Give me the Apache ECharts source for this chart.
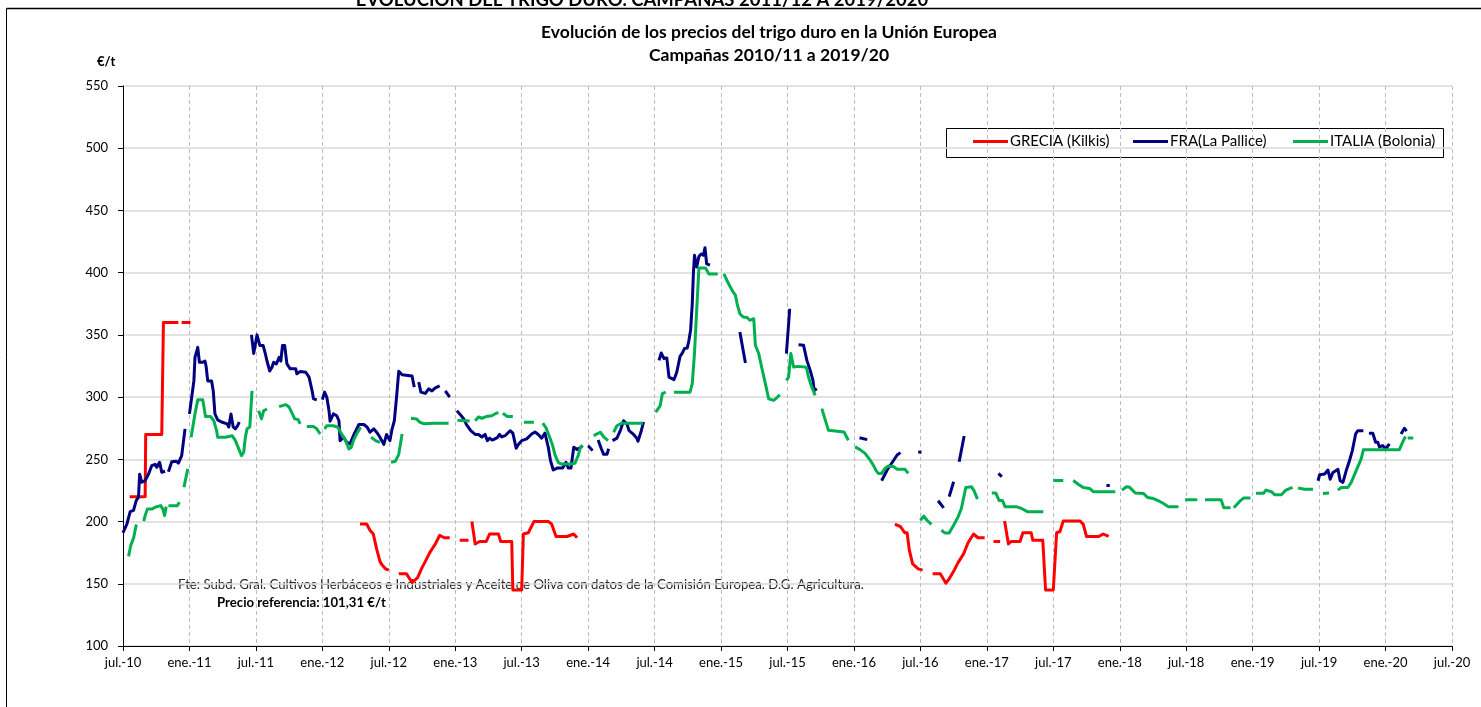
<!DOCTYPE html>
<html>
<head>
<meta charset="utf-8">
<script src="https://cdn.jsdelivr.net/npm/echarts@6/dist/echarts.min.js"></script>
<style>
  html, body { margin: 0; padding: 0; background: #fff; }
  #chart { width: 1481px; height: 707px; }
</style>
</head>
<body>
<div id="chart"></div>
<script>
// eje X: meses desde jul.-10 (0) hasta jul.-20 (120), marcas cada 6 meses
var tickLabels = ['jul.-10', 'ene.-11', 'jul.-11', 'ene.-12', 'jul.-12', 'ene.-13', 'jul.-13',
  'ene.-14', 'jul.-14', 'ene.-15', 'jul.-15', 'ene.-16', 'jul.-16', 'ene.-17', 'jul.-17',
  'ene.-18', 'jul.-18', 'ene.-19', 'jul.-19', 'ene.-20', 'jul.-20']

var seriesNames = ['GRECIA (Kilkis)', 'FRA(La Pallice)', 'ITALIA (Bolonia)']

// [mes, €/t] ; null = sin cotización (corte de la línea)
var greciaPts = [
  [0.6, 220], [2.0, 220], [2.05, 270], [3.5, 270], [3.65, 360], [5.0, 360], null,
  [5.3, 360], [6.1, 360], null,
  [21.4, 198], [22.0, 198], [22.3, 193], [22.6, 190], [22.9, 178], [23.2, 168], [23.4, 165], [23.7, 162], [24.0, 161], null,
  [24.9, 158], [25.6, 158], [26.1, 151], [26.6, 155], [27.0, 163], [27.3, 168], [27.7, 175], [28.2, 182], [28.6, 189], [29.0, 187], [29.5, 187], null,
  [30.4, 185], [31.2, 185], null,
  [31.5, 200], [31.8, 182], [32.2, 184], [32.8, 184], [33.1, 190], [33.9, 190], [34.1, 184], [35.1, 184], [35.2, 145], [36.0, 145],
  [36.15, 190], [36.6, 191], [37.1, 200], [38.4, 200], [38.7, 198], [39.1, 188], [40.1, 188], [40.7, 190], [41.0, 187], null,
  [69.7, 198], [70.2, 196], [70.6, 191], [70.8, 191], [71.0, 177], [71.3, 166], [71.8, 162], [72.2, 161], null,
  [73.1, 158], [73.8, 158], [74.3, 150.5], [74.6, 154], [75.0, 160], [75.4, 167], [75.9, 174], [76.3, 183], [76.8, 190], [77.2, 187], [77.8, 187], null,
  [78.6, 184], [79.2, 184], null,
  [79.6, 200.5], [79.95, 182], [80.2, 184], [81.0, 184], [81.25, 191], [82.0, 191], [82.15, 185], [83.05, 185], [83.3, 145], [84.0, 145],
  [84.3, 191], [84.6, 192], [84.9, 200.5], [86.4, 200.5], [86.7, 198], [87.0, 188], [88.1, 188], [88.5, 190], [89.0, 188]
]

var fraPts = [
  [0, 191], [0.35, 198], [0.65, 208], [0.95, 209], [1.2, 217], [1.4, 219.5], [1.5, 238], [1.7, 231.6], [2.0, 233], [2.3, 238],
  [2.6, 245], [2.9, 246], [3.05, 243.6], [3.3, 247.7], [3.5, 239.6], [3.8, 240.4], null,
  [4.1, 240], [4.4, 248], [4.8, 248.5], [5.0, 247], [5.3, 253], [5.6, 274.5], null,
  [6.0, 286.5], [6.4, 313], [6.5, 332], [6.75, 340], [6.9, 328], [7.2, 328], [7.4, 329], [7.5, 325], [7.65, 313], [8.0, 313],
  [8.15, 305], [8.3, 286.5], [8.55, 281.7], [8.9, 280], [9.4, 278.5], [9.55, 276], [9.75, 286.5], [9.95, 276], [10.15, 274.5],
  [10.35, 277], [10.5, 280], null,
  [11.6, 350], [11.8, 335], [12.1, 350], [12.35, 341.5], [12.65, 341.5], [12.85, 335], [13.0, 329], [13.25, 321], [13.45, 324],
  [13.6, 328], [13.85, 326.7], [14.1, 332], [14.25, 329], [14.4, 341.4], [14.6, 341.4], [14.8, 326.7], [15.1, 322.7], [15.6, 322.7],
  [15.7, 318.7], [16.0, 320.5], [16.5, 320], [16.65, 321], [16.8, 316], [17.1, 304], [17.2, 298.6], [17.5, 297.8], null,
  [18.0, 298], [18.2, 304], [18.4, 300], [18.6, 289], [18.7, 280.6], [19.0, 286.5], [19.3, 285], [19.5, 281], [19.6, 265],
  [19.9, 268], [20.2, 263.7], [20.5, 262.4], [20.85, 270], [21.3, 278], [21.75, 278], [22.05, 275.8], [22.3, 271.8], [22.65, 274.5],
  [22.9, 271.8], [23.2, 267.8], [23.55, 262], [23.8, 270], [24.1, 265], [24.3, 274.5], [24.5, 281], [24.7, 300], [24.9, 320.8],
  [25.2, 318], [26.1, 317], [26.3, 308], null,
  [26.7, 312], [26.9, 304], [27.3, 303], [27.6, 306.6], [27.9, 305], [28.2, 307.4], [28.6, 309], null,
  [29.1, 305], [29.5, 300], null,
  [30.15, 289], [30.5, 285.5], [30.8, 282], [31.0, 278], [31.4, 273], [31.8, 270], [32.1, 270], [32.4, 268], [32.7, 270],
  [32.9, 265], [33.1, 267], [33.35, 265.5], [33.8, 267.5], [34.0, 270], [34.2, 268], [34.5, 269], [34.95, 273], [35.2, 271],
  [35.5, 259], [35.7, 262], [36.0, 265], [36.45, 266.4], [36.9, 270.4], [37.2, 272], [37.5, 270], [37.8, 267], [38.1, 271],
  [38.4, 259.7], [38.6, 249], [38.85, 241.4], [39.2, 243], [39.7, 243], [40.0, 247.6], [40.2, 243], [40.45, 243], [40.7, 259.7],
  [41.0, 258], [41.3, 259.5], [41.5, 261], null,
  [42.0, 261], [42.4, 257], null,
  [42.9, 265.6], [43.2, 258.3], [43.4, 254], [43.7, 254], [43.85, 258.5], null,
  [44.2, 265], [44.6, 267], [44.9, 273], [45.2, 281], [45.5, 278.5], [45.7, 273], [46.1, 270], [46.4, 267], [46.5, 264.5],
  [46.8, 273], [47.0, 280], null,
  [48.4, 329.5], [48.6, 335.4], [48.85, 331], [49.1, 331.5], [49.3, 316], [49.75, 314], [50.0, 320], [50.3, 332.8], [50.5, 335.4],
  [50.7, 339], [50.95, 339.5], [51.1, 345.6], [51.25, 353.7], [51.4, 375], [51.5, 399], [51.6, 414], [51.8, 404.5], [52.0, 413],
  [52.2, 415], [52.4, 414], [52.55, 420], [52.7, 407], [52.8, 406], [53.0, 406], null,
  [55.7, 352.3], [56.2, 327.4], null,
  [59.9, 335], [60.2, 371], null,
  [61.0, 342], [61.45, 341.6], [61.75, 329.5], [62.05, 321.5], [62.3, 313.5], [62.4, 305.4], [62.65, 306.8], null,
  [66.5, 267.4], [67.2, 265.8], null,
  [68.5, 232.8], [69.0, 241.4], [69.6, 249.5], [69.9, 253.5], [70.2, 255.4], null,
  [71.8, 255.8], [72.1, 255.6], null,
  [73.6, 216.7], [74.1, 211], null,
  [74.6, 220], [75.0, 232], null,
  [75.5, 248], [75.95, 268.8], null,
  [79.05, 238.7], [79.35, 236], null,
  [88.8, 229], [89.1, 229], null,
  [107.9, 232.8], [108.05, 237.6], [108.5, 238.2], [108.8, 241.4], [109.0, 234], [109.25, 239.5], [109.5, 240.9], [109.7, 242],
  [109.9, 232.8], [110.15, 231.5], [110.45, 241], [110.7, 247.6], [111.0, 257], [111.3, 270.4], [111.5, 273], [112.0, 273], null,
  [112.5, 271], [112.85, 271], [113.1, 263.7], [113.3, 263.7], [113.45, 260], [113.75, 261], [114.0, 258.3], [114.35, 262.4], null,
  [115.4, 270.4], [115.7, 275], [115.9, 272.6]
]

var italiaPts = [
  [0.5, 172], [0.7, 180.7], [0.96, 187], [1.2, 197.6], null,
  [1.87, 200.3], [2.0, 204.8], [2.2, 210], [2.6, 210], [2.9, 211.5], [3.4, 212.8], [3.6, 210], [3.76, 204.8], [3.9, 212], null,
  [4.1, 212.8], [4.9, 212.8], [5.1, 215.5], null,
  [5.5, 227.6], [5.85, 242.3], null,
  [6.15, 267.8], [6.3, 275.8], [6.5, 286.5], [6.75, 297.8], [7.2, 297.8], [7.45, 284.4], [7.9, 284.4], [8.2, 281], [8.45, 273],
  [8.55, 267.8], [9.25, 267.8], [9.85, 269], [10.15, 265], [10.45, 258.4], [10.7, 253], [10.9, 255.7], [11.05, 267.8], [11.2, 274.5],
  [11.45, 276], [11.65, 305], null,
  [12.25, 289], [12.5, 282.5], [12.7, 289], [13.0, 290.5], null,
  [14.1, 292.4], [14.7, 294], [15.0, 292], [15.3, 286.5], [15.5, 282.5], [15.8, 282], [16.0, 278.5], null,
  [16.6, 276.3], [17.2, 276.3], [17.5, 274.5], [17.8, 270.4], null,
  [18.2, 274.5], [18.4, 277], [19.0, 277], [19.4, 275.8], [19.7, 271], [20.1, 265], [20.4, 258.4], [20.6, 259.5], [20.8, 265],
  [21.1, 270.4], [21.45, 275.8], null,
  [22.4, 267.8], [22.8, 265], [23.2, 263.7], null,
  [24.2, 247.7], [24.6, 248.5], [24.9, 254], [25.2, 270.4], null,
  [26.0, 283], [26.5, 282.5], [26.8, 279.8], [27.2, 278.5], [28.1, 279], [29.4, 279], null,
  [30.2, 281.5], [31.3, 280.8], null,
  [31.8, 281], [32.1, 284], [32.4, 283], [32.8, 284.4], [33.3, 285], [33.7, 287], [33.9, 287.5], null,
  [34.3, 287], [34.7, 284.4], [35.2, 284.4], null,
  [36.2, 279.8], [37.1, 279.8], null,
  [37.9, 279], [38.2, 275.3], [38.55, 267.2], [38.8, 261], [39.0, 253.8], [39.3, 247.6], [39.6, 246.2], [40.4, 246.2], [40.8, 246.8],
  [41.1, 253], [41.3, 259.7], [41.5, 261], null,
  [42.5, 269], [43.1, 271.8], [43.4, 268], [43.8, 265], null,
  [44.3, 271.8], [44.6, 277], [45.0, 279], [46.95, 279], null,
  [48.1, 288], [48.5, 293], [48.7, 302.8], [49.0, 304], null,
  [49.75, 304], [51.2, 304], [51.4, 310.8], [51.6, 335], [51.8, 369.7], [52.0, 403.7], [52.6, 403.7], [52.9, 399], [53.7, 399], null,
  [54.25, 399], [54.6, 392.5], [55.0, 385.8], [55.3, 381.8], [55.45, 375], [55.7, 367], [56.0, 364.4], [56.35, 364], [56.6, 361.7],
  [56.95, 363], [57.1, 341.6], [57.4, 335], [57.7, 322.8], [58.0, 310.8], [58.3, 298.7], [58.75, 297.4], [59.1, 300], [59.3, 302], null,
  [59.9, 313.5], [60.1, 316], [60.3, 335], [60.55, 324.2], [61.0, 324.7], [61.7, 324], [61.9, 316], [62.2, 308], [62.5, 301.4], null,
  [63.1, 290.7], [63.4, 281.9], [63.7, 273.3], [65.1, 272], [65.5, 265.4], null,
  [66.1, 260], [66.55, 257.8], [67.0, 254.8], [67.45, 249.5], [67.75, 245.4], [68.0, 240.9], [68.2, 238.7], [68.5, 238.7], [68.8, 242.7],
  [69.1, 244.6], [69.6, 244], [69.9, 242], [70.6, 242], [70.9, 238.7], null,
  [72.0, 201], [72.3, 204.3], [72.6, 201], [73.0, 197.8], null,
  [73.9, 193], [74.2, 190.9], [74.6, 190.9], [75.0, 197], [75.4, 203.8], [75.7, 210.5], [76.1, 227.4], [76.6, 228], [76.85, 224.7],
  [77.15, 218], null,
  [78.45, 223], [78.8, 223], [79.1, 217], [79.4, 217], [79.65, 211.8], [80.7, 211.8], [81.0, 211], [81.3, 209.7], [81.7, 207.8],
  [83.1, 207.8], null,
  [84.0, 233], [84.9, 233], null,
  [85.8, 233], [86.25, 230], [86.7, 227.4], [87.3, 226.6], [87.6, 224], [89.6, 224], null,
  [90.2, 225.3], [90.6, 228], [90.9, 227.5], [91.4, 223], [92.15, 222.6], [92.5, 219.4], [93.05, 218.5], [93.5, 216.7], [93.95, 214.5],
  [94.4, 211.8], [95.3, 211.8], null,
  [95.9, 217.6], [97.0, 217.6], null,
  [97.7, 217.6], [99.15, 217.6], [99.4, 211], [100.0, 211], null,
  [100.3, 211], [100.8, 216], [101.2, 219], [101.8, 219], null,
  [102.3, 222.8], [103.0, 222.8], [103.2, 225.3], [103.7, 224], [104.0, 221.5], [104.6, 221.5], [105.0, 225.3], [105.6, 227.4], null,
  [106.1, 227], [106.7, 226], [107.45, 226], null,
  [108.35, 222.6], [108.9, 223], null,
  [109.7, 225.3], [110.0, 227.4], [110.6, 227.4], [110.9, 231.5], [111.35, 240.9], [111.8, 250.3], [112.0, 257.8], [115.25, 257.8],
  [115.6, 265], [115.8, 268.3], null,
  [116.0, 267.2], [116.5, 267.2]
]

var colores = ['#ff0000', '#000080', '#00b050']
var fuente = 'Lato, "Open Sans", sans-serif'

// los null cortan la línea
function conCortes(pts) {
  return pts.map(function (p) { return p === null ? ['-', '-'] : p })
}

var chart = echarts.init(document.getElementById('chart'))

var lineas = [greciaPts, fraPts, italiaPts].map(function (pts, i) {
  return {
    name: seriesNames[i],
    type: 'line',
    data: conCortes(pts),
    showSymbol: false,
    symbol: 'none',
    connectNulls: false,
    animation: false,
    lineStyle: { color: colores[i], width: 3, join: 'round' },
    itemStyle: { color: colores[i] }
  }
})

// leyendas separadas para colocarlas igual que en el original
var leyendaX = [973, 1133, 1293]
var leyendas = seriesNames.map(function (n, i) {
  return {
    data: [n],
    left: leyendaX[i],
    top: 134,
    itemWidth: 35,
    itemHeight: 3,
    itemGap: 0,
    icon: 'rect',
    padding: 0,
    selectedMode: false,
    textStyle: { fontFamily: fuente, fontSize: 15, color: '#000', padding: [0, 0, 0, -3] }
  }
})

chart.setOption({
  backgroundColor: '#fff',
  animation: false,
  grid: { left: 123, right: 29, top: 86, bottom: 61 },
  legend: leyendas,
  xAxis: {
    type: 'value',
    min: 0,
    max: 120,
    interval: 6,
    axisLine: { show: true, lineStyle: { color: '#000', width: 1 } },
    axisTick: { show: true, length: 5, lineStyle: { color: '#000' } },
    axisLabel: {
      fontFamily: fuente, fontSize: 13, color: '#000', margin: 10,
      formatter: function (v) { return tickLabels[Math.round(v / 6)] }
    },
    splitLine: { show: true, lineStyle: { color: '#bdbdbd', type: [4, 3], width: 1 } }
  },
  yAxis: {
    type: 'value',
    min: 100,
    max: 550,
    interval: 50,
    axisLine: { show: true, lineStyle: { color: '#000', width: 1 } },
    axisTick: { show: true, length: 5, lineStyle: { color: '#000' } },
    axisLabel: { fontFamily: fuente, fontSize: 13, color: '#000', margin: 15 },
    splitLine: { show: true, lineStyle: { color: '#d9d9d9', width: 1.5 } }
  },
  graphic: [
    // marco
    { type: 'line', shape: { x1: 6.5, y1: 8.5, x2: 1481, y2: 8.5 }, style: { stroke: '#000', lineWidth: 1.5 } },
    { type: 'line', shape: { x1: 6.5, y1: 8.5, x2: 6.5, y2: 707 }, style: { stroke: '#000', lineWidth: 1 } },
    // título superior cortado
    {
      type: 'text', x: 642, y: 0,
      style: { text: 'EVOLUCION DEL TRIGO DURO. CAMPAÑAS 2011/12 A 2019/2020', fontFamily: fuente, fontSize: 18.5, fontWeight: 'bold', fill: '#000', align: 'center', verticalAlign: 'middle' }
    },
    {
      type: 'text', x: 769, y: 32,
      style: { text: 'Evolución de los precios del trigo duro en la Unión Europea', fontFamily: fuente, fontSize: 17.5, fontWeight: 'bold', fill: '#000', align: 'center', verticalAlign: 'middle' }
    },
    {
      type: 'text', x: 769, y: 55,
      style: { text: 'Campañas 2010/11 a 2019/20', fontFamily: fuente, fontSize: 17.5, fontWeight: 'bold', fill: '#000', align: 'center', verticalAlign: 'middle' }
    },
    {
      type: 'text', x: 97, y: 62,
      style: { text: '€/t', fontFamily: fuente, fontSize: 13, fontWeight: 'bold', fill: '#000', verticalAlign: 'middle' }
    },
    // caja de la leyenda
    {
      type: 'rect', z: -1, shape: { x: 946.5, y: 128.5, width: 497, height: 29 },
      style: { fill: '#fff', stroke: '#000', lineWidth: 1 }
    },
    {
      type: 'text', x: 178, y: 585,
      style: { text: 'Fte: Subd. Gral. Cultivos Herbáceos e Industriales y Aceite de Oliva con datos de la Comisión Europea. D.G. Agricultura.', fontFamily: fuente, fontSize: 13.2, fill: '#262626', verticalAlign: 'middle' }
    },
    {
      type: 'text', x: 217, y: 603,
      style: { text: 'Precio referencia: 101,31 €/t', fontFamily: fuente, fontSize: 13.2, fontWeight: 'bold', fill: '#000', verticalAlign: 'middle' }
    }
  ],
  series: lineas
})
</script>
</body>
</html>
